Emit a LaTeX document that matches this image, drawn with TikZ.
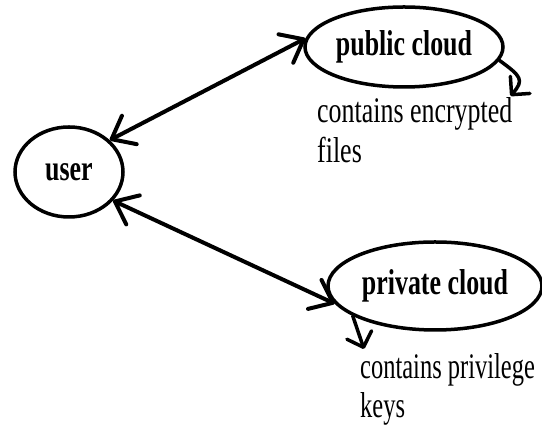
\documentclass[tikz,border=0pt]{standalone}
\usepackage{fontspec}
\setmainfont[FakeStretch=0.72]{Liberation Serif}
\newfontfamily\slimserif[FakeStretch=0.68]{Liberation Serif}
\usetikzlibrary{shapes.geometric,arrows.meta}

\begin{document}
\begin{tikzpicture}[x=1pt,y=1pt,
	bubble/.style={draw, ellipse, line width=3.5pt, inner sep=0pt, font=\bfseries\fontsize{36}{40}\selectfont},
	notetext/.style={align=left, inner sep=1pt, font=\fontsize{36}{40}\selectfont},
	link/.style={{Straight Barb[length=20pt,width=32pt,round]}-{Straight Barb[length=20pt,width=32pt,round]}, line width=4pt, line cap=round, line join=round},
	hint/.style={-{Straight Barb[length=13pt,width=26pt,round]}, line width=3.5pt, line cap=round, line join=round}]
	\useasboundingbox (0,0) rectangle (542,427);

	\node[bubble, minimum width=108pt, minimum height=90pt] (user) at (69,255) {user};
	\node[bubble, minimum width=198pt, minimum height=80pt] (public) at (404,380) {public cloud};
	\node[bubble, minimum width=214pt, minimum height=88pt] (private) at (435,141) {private cloud};

	\node[notetext, anchor=north west] (encfiles) at (316,331) {contains encrypted\\files};
	\node[notetext, anchor=north west, font=\slimserif\fontsize{36}{39}\selectfont] (privkeys) at (359,75) {contains privilege\\keys};

	\draw[link] (user.38) -- (public.175);
	\draw[link] (user.-33) -- (private.190);

	\draw[hint] (public.-8) .. controls +(22,-16) and +(14,16) .. ([xshift=-3pt]encfiles.north east);
	\draw[hint] (private.200) -- ([xshift=5pt,yshift=3pt]privkeys.north west);
\end{tikzpicture}
\end{document}
